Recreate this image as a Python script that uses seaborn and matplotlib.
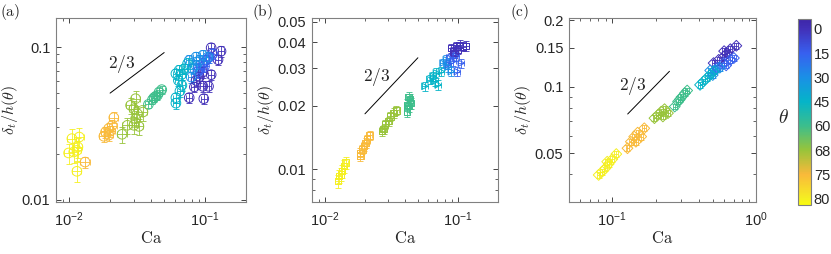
import numpy as np
import pandas as pd
import matplotlib
matplotlib.use("Agg")
import matplotlib.pyplot as plt
import seaborn as sns
from matplotlib.colors import LinearSegmentedColormap, Normalize
from matplotlib.ticker import FixedLocator, FixedFormatter, NullFormatter, LogLocator

# ─── data ────────────────────────────────────────────────────────────────────
theta_labels = [0, 15, 30, 45, 60, 68, 75, 80]

# panel (a): groups ordered like theta_labels
a_ca = [
    [0.0963, 0.0908, 0.0834, 0.0764, 0.0963, 0.106, 0.0978, 0.1108, 0.1245, 0.131, 0.1108, 0.0858],
    [0.0908, 0.0963, 0.1017, 0.1077, 0.114, 0.099, 0.0883],
    [0.0764, 0.0858, 0.0963, 0.0908, 0.081, 0.079, 0.0858, 0.105],
    [0.061, 0.0644, 0.0675, 0.0636, 0.0675, 0.0653, 0.061, 0.061, 0.0743, 0.0703],
    [0.0383, 0.041, 0.0433, 0.0459, 0.048, 0.0421, 0.0446],
    [0.0308, 0.0283, 0.0299, 0.0317, 0.0349, 0.0308, 0.0326, 0.0299, 0.0268, 0.0245],
    [0.0213, 0.0207, 0.0195, 0.0185, 0.018, 0.0195, 0.0201, 0.0131],
    [0.01047, 0.01186, 0.0099, 0.0108, 0.0116, 0.0114, 0.0114],
]
a_dt = [
    [0.0687, 0.0637, 0.0549, 0.0467, 0.0554, 0.0554, 0.046, 0.066, 0.0827, 0.094, 0.099, 0.0605],
    [0.0722, 0.078, 0.0818, 0.086, 0.0906, 0.0748, 0.0687],
    [0.0818, 0.086, 0.0883, 0.0818, 0.0722, 0.0637, 0.076, 0.086],
    [0.067, 0.0705, 0.0664, 0.0605, 0.0562, 0.0516, 0.0467, 0.043, 0.078, 0.0722],
    [0.0422, 0.0453, 0.0476, 0.0508, 0.0527, 0.0467, 0.0483],
    [0.046, 0.0416, 0.0395, 0.0367, 0.0376, 0.034, 0.0303, 0.0308, 0.0308, 0.0269],
    [0.0346, 0.0307, 0.0293, 0.0278, 0.0261, 0.0265, 0.0282, 0.0177],
    [0.0252, 0.0258, 0.0203, 0.0206, 0.0222, 0.0211, 0.0154],
]
a_xerr = [0.05, 0.05, 0.05, 0.05, 0.05, 0.08, 0.08, 0.08]
a_yerr = [0.08, 0.08, 0.08, 0.08, 0.06, 0.12, 0.08, 0.15]

# panel (b)
b_ca = [
    [0.0891, 0.0917, 0.0971, 0.1028, 0.1088, 0.115, 0.0944, 0.0999],
    [0.0866, 0.0917, 0.0971, 0.0842, 0.099, 0.106],
    [0.0773, 0.0818, 0.0891, 0.0842],
    [0.0565, 0.0615, 0.065, 0.0689, 0.067, 0.071, 0.0752],
    [0.0413, 0.0425, 0.0437, 0.0425, 0.0413, 0.0442],
    [0.0269, 0.0284, 0.0301, 0.031, 0.0328, 0.0344, 0.0276],
    [0.0185, 0.0191, 0.0202, 0.0208, 0.0217, 0.0196, 0.0185],
    [0.01278, 0.0139, 0.0143, 0.0125, 0.0135, 0.0132],
]
b_dt = [
    [0.0375, 0.0361, 0.0381, 0.0388, 0.0381, 0.0384, 0.0355, 0.0368],
    [0.0336, 0.0324, 0.0342, 0.0313, 0.029, 0.0318],
    [0.0318, 0.033, 0.029, 0.0305],
    [0.0247, 0.0266, 0.0276, 0.0286, 0.0261, 0.0251, 0.029],
    [0.0188, 0.0199, 0.0214, 0.022, 0.0202, 0.0206],
    [0.01514, 0.0163, 0.01688, 0.0178, 0.0185, 0.019, 0.0155],
    [0.01197, 0.0124, 0.01334, 0.01384, 0.01445, 0.01286, 0.01153],
    [0.0093, 0.01035, 0.01074, 0.0088, 0.0098, 0.00946],
]
b_marker = ["s", ">", ">", ">", "s", "s", "s", "s"]
b_xerr = [0.05, 0.05, 0.05, 0.05, 0.04, 0.05, 0.05, 0.05]
b_yerr = [0.05, 0.05, 0.05, 0.05, 0.06, 0.05, 0.05, 0.07]

# panel (c)
c_ca = [
    [0.507, 0.55, 0.597, 0.63, 0.663, 0.73, 0.6],
    [0.535, 0.597, 0.663, 0.702, 0.62],
    [0.48, 0.52, 0.56, 0.5],
    [0.408, 0.431, 0.455, 0.48, 0.507],
    [0.272, 0.287, 0.303, 0.32, 0.332, 0.295],
    [0.1965, 0.208, 0.219, 0.231, 0.244, 0.225],
    [0.1276, 0.1347, 0.1421, 0.1501, 0.167, 0.146, 0.159],
    [0.0804, 0.085, 0.0897, 0.0946, 0.1, 0.1067, 0.0922],
]
c_dt = [
    [0.128, 0.1324, 0.137, 0.142, 0.148, 0.1534, 0.145],
    [0.1216, 0.128, 0.1324, 0.135, 0.125],
    [0.1185, 0.119, 0.122, 0.113],
    [0.102, 0.1057, 0.1094, 0.1133, 0.1173],
    [0.0813, 0.0857, 0.0897, 0.0935, 0.0961, 0.0875],
    [0.072, 0.0745, 0.0771, 0.0791, 0.0759, 0.0733],
    [0.0526, 0.0563, 0.0594, 0.0619, 0.0648, 0.0563, 0.0594],
    [0.0398, 0.0412, 0.0427, 0.0447, 0.0469, 0.0495, 0.0457],
]
c_err = [0.03, 0.03, 0.03, 0.03, 0.03, 0.03, 0.03, 0.03]

# 2/3 slope guides: (Ca start, Ca end, y at start, label Ca, label y)
slope_a = (0.02, 0.05, 0.050, 0.0245, 0.078)
slope_b = (0.02, 0.05, 0.0183, 0.0243, 0.0274)
slope_c = (0.128, 0.25, 0.0752, 0.138, 0.101)

# parula-like map, colours picked from the reference colour bar
cmap_pos = [0.0, 0.052, 0.183, 0.314, 0.444, 0.575, 0.706, 0.837, 0.967, 1.0]
cmap_rgb = ["#3e26a8", "#4230b8", "#3760ef", "#1a90e6", "#05b4c8",
            "#3cbe8c", "#98c43a", "#f9b93a", "#f5ef22", "#f9fb0e"]
parula = LinearSegmentedColormap.from_list("parula", list(zip(cmap_pos, cmap_rgb)))
norm = Normalize(vmin=-0.4, vmax=7.25)
palette = {i: parula(norm(i)) for i in range(len(theta_labels))}

# ─── style ───────────────────────────────────────────────────────────────────
sns.set_theme(style="ticks")
plt.rcParams["font.family"] = ["Liberation Sans", "DejaVu Sans"]
plt.rcParams["mathtext.fontset"] = "cm"
axcol = "0.15"
plt.rcParams.update({
    "axes.edgecolor": "0.5", "axes.linewidth": 0.8,
    "xtick.color": axcol, "ytick.color": axcol,
    "xtick.labelcolor": axcol, "ytick.labelcolor": axcol,
    "xtick.direction": "in", "ytick.direction": "in",
    "xtick.major.size": 3.5, "ytick.major.size": 3.5,
    "xtick.minor.size": 2, "ytick.minor.size": 2,
    "xtick.major.width": 0.6, "ytick.major.width": 0.6,
    "xtick.minor.width": 0.5, "ytick.minor.width": 0.5,
    "xtick.top": True, "ytick.right": True,
    "xtick.minor.top": True, "ytick.minor.right": True,
    "xtick.labelsize": 10.5, "ytick.labelsize": 10.5,
    "xtick.major.pad": 6, "ytick.major.pad": 4,
})


def to_frame(ca, dt):
    rows = []
    for g, (xs, ys) in enumerate(zip(ca, dt)):
        for x, y in zip(xs, ys):
            rows.append({"Ca": x, "dt": y, "g": g})
    return pd.DataFrame(rows)


def draw_panel(ax, ca, dt, xerr, yerr, markers, size):
    df = to_frame(ca, dt)
    for g in range(len(ca)):
        sub = df[df["g"] == g]
        ax.errorbar(sub["Ca"], sub["dt"],
                    xerr=sub["Ca"] * xerr[g], yerr=sub["dt"] * yerr[g],
                    fmt="none", ecolor=palette[g], elinewidth=0.6,
                    capsize=2, capthick=0.6, zorder=2)
    df["m"] = [markers[g] for g in df["g"]]
    sns.scatterplot(data=df, x="Ca", y="dt", hue="g", style="m",
                    markers={m: m for m in set(markers)}, palette=palette,
                    s=size, linewidth=0.7, legend=False, ax=ax, zorder=3)
    # open markers: move the hue colour onto the edges
    coll = ax.collections[-1]
    fc = coll.get_facecolors()
    coll.set_edgecolors(fc)
    coll.set_facecolors("none")
    ax.set_xscale("log")
    ax.set_yscale("log")


def slope_line(ax, sl):
    x0, x1, y0, tx, ty = sl
    xs = np.array([x0, x1])
    ax.plot(xs, y0 * (xs / x0) ** (2 / 3), color="black", lw=0.7, zorder=4)
    ax.text(tx, ty, r"$2/3$", fontsize=12.5, ha="center", va="center")


def finish(ax, xlim, ylim, yticks, yticklabels):
    ax.set_xlim(*xlim)
    ax.set_ylim(*ylim)
    ax.yaxis.set_major_locator(FixedLocator(yticks))
    ax.yaxis.set_major_formatter(FixedFormatter(yticklabels))
    ax.yaxis.set_minor_locator(LogLocator(base=10, subs=np.arange(2, 10)))
    ax.yaxis.set_minor_formatter(NullFormatter())
    ax.xaxis.set_minor_formatter(NullFormatter())
    ax.set_xlabel(r"$\mathrm{Ca}$", fontsize=12, labelpad=1)
    ax.set_ylabel(r"$\delta_t/h(\theta)$", fontsize=11.5, labelpad=1)
    for sp in ax.spines.values():
        sp.set_visible(True)


fig = plt.figure(figsize=(8.31, 2.54), dpi=100)
ax_a = fig.add_axes([56 / 831, 52 / 254, 190 / 831, 184 / 254])
ax_b = fig.add_axes([312 / 831, 52 / 254, 186 / 831, 184 / 254])
ax_c = fig.add_axes([569 / 831, 52 / 254, 187 / 831, 184 / 254])
cax = fig.add_axes([798 / 831, 49 / 254, 13 / 831, 186 / 254])

draw_panel(ax_a, a_ca, a_dt, a_xerr, a_yerr, ["o"] * 8, 48)
slope_line(ax_a, slope_a)
finish(ax_a, (0.008, 0.2), (0.0097, 0.155), [0.01, 0.1], ["0.01", "0.1"])

draw_panel(ax_b, b_ca, b_dt, b_xerr, b_yerr, b_marker, 22)
slope_line(ax_b, slope_b)
finish(ax_b, (0.008, 0.2), (0.007, 0.052),
       [0.01, 0.02, 0.03, 0.04, 0.05], ["0.01", "0.02", "0.03", "0.04", "0.05"])

draw_panel(ax_c, c_ca, c_dt, c_err, c_err, ["D"] * 8, 30)
slope_line(ax_c, slope_c)
finish(ax_c, (0.05, 1.0), (0.03, 0.205), [0.05, 0.1, 0.15, 0.2], ["0.05", "0.1", "0.15", "0.2"])

for lab, x in [("a", 0.0), ("b", 252 / 831), ("c", 510 / 831)]:
    fig.text(x, 1 - 12 / 254, r"$(\mathrm{%s})$" % lab, fontsize=11, ha="left", va="center")

sm = plt.cm.ScalarMappable(norm=norm, cmap=parula)
cb = fig.colorbar(sm, cax=cax)
cb.outline.set_edgecolor("0.5")
cb.outline.set_linewidth(0.8)
cax.invert_yaxis()
cb.set_ticks(range(len(theta_labels)))
cb.set_ticklabels([str(t) for t in theta_labels])
cax.tick_params(which="both", direction="in", length=2, width=0.5, left=False, right=True,
                labelsize=10.5, pad=2)
cax.minorticks_off()
fig.text(783 / 831, 1 - 118 / 254, r"$\theta$", fontsize=14, ha="center", va="center")

plt.savefig("out.png", dpi=100)
plt.close()
